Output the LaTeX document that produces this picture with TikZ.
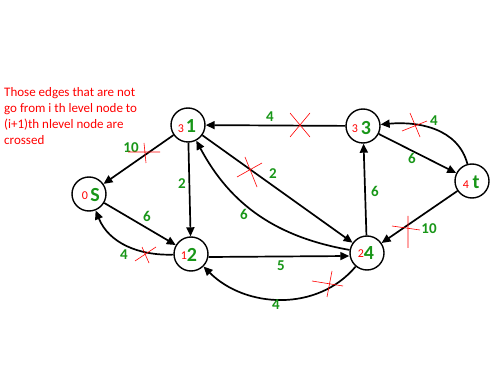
\documentclass[tikz,border=0pt]{standalone}
\usepackage{fontspec}
\setmainfont{Carlito}
\usetikzlibrary{arrows.meta}
\definecolor{lblgreen}{RGB}{24,150,24}
\begin{document}
\begin{tikzpicture}[x=1pt,y=-1pt,
  vtx/.style={circle,draw,line width=1.4pt,minimum size=34pt,inner sep=0pt},
  edge/.style={line width=1.7pt,-{Triangle[length=9pt,width=8pt]}},
  wt/.style={text=lblgreen,font=\fontsize{15}{15}\selectfont\bfseries},
  big/.style={text=lblgreen,font=\fontsize{20}{20}\selectfont\bfseries},
  lvl/.style={text=red,font=\fontsize{12}{12}\selectfont},
  crossmark/.style={red,line width=0.6pt}]
\useasboundingbox (0,0) rectangle (495,371);
% note
\node[text=red,font=\fontsize{13}{16}\selectfont,align=left,anchor=north west,inner sep=0pt] (note) at (4,87)
  {Those edges that are not\\go from i th level node to\\(i+1)th nlevel node are\\crossed};
% vertices
\node[vtx] (n1) at (188,125) {};
\node[vtx] (s) at (89,194) {};
\node[vtx] (n2) at (191,254) {};
\node[vtx] (n3) at (363,126) {};
\node[vtx] (t) at (472,181) {};
\node[vtx] (n4) at (367,253) {};
% vertex texts
\node[lvl] (l1) at (181,129) {3};
\node[big] (b1) at (191,126) {1};
\node[lvl] (ls) at (85,196) {0};
\node[big] (bs) at (95,195) {S};
\node[lvl] (l2) at (184,256) {1};
\node[big] (b2) at (192,255) {2};
\node[lvl] (l3) at (355,129) {3};
\node[big] (b3) at (366,128) {3};
\node[lvl] (lt) at (466,185) {4};
\node[big] (bt) at (476,182) {t};
\node[lvl] (l4) at (361,254) {2};
\node[big] (b4) at (369,253) {4};
% edges
\draw[edge] (n3) -- (n1);
\draw[edge] (n1) -- (s);
\draw[edge] (n1) -- (n2);
\draw[edge] (n1) -- (n4);
\draw[edge] (n4) to[out=170,in=-62] (n1);
\draw[edge] (s) -- (n2);
\draw[edge] (n2) to[out=182,in=-68] (s);
\draw[edge] ([yshift=-3pt]n2.east) -- ([yshift=-3pt]n4.west);
\draw[edge] (n4) to[out=-130,in=-45] (n2);
\draw[edge] (n4) -- (n3);
\draw[edge] (n3) -- (t);
\draw[edge] (t) to[out=105,in=5] (n3);
\draw[edge] (t) -- (n4);
% weights
\node[wt] (w31) at (270,117) {4};
\node[wt] (w1s) at (131,148) {10};
\node[wt] (w12) at (182,184) {2};
\node[wt] (w14) at (273,174) {2};
\node[wt] (w41) at (244,214) {6};
\node[wt] (ws2) at (147,216) {6};
\node[wt] (w2s) at (124,255) {4};
\node[wt] (w24) at (281,266) {5};
\node[wt] (w42) at (276,305) {4};
\node[wt] (w43) at (375,191) {6};
\node[wt] (w3t) at (412,158) {6};
\node[wt] (wt3) at (434,121) {4};
\node[wt] (wt4) at (429,229) {10};
% crosses
\draw[crossmark] (290,113) -- (310,137) (290,137) -- (310,113);
\draw[crossmark] (128,152) -- (160,152) (144,143) -- (146,163);
\draw[crossmark] (237,177) -- (262,163) (245,157) -- (257,187);
\draw[crossmark] (135,261) -- (156,247) (142,247) -- (149,263);
\draw[crossmark] (312,281) -- (343,286) (332,271) -- (327,297);
\draw[crossmark] (402,131) -- (427,121) (410,113) -- (420,137);
\draw[crossmark] (392,226) -- (420,230) (408,216) -- (408,248);
\end{tikzpicture}
\end{document}
